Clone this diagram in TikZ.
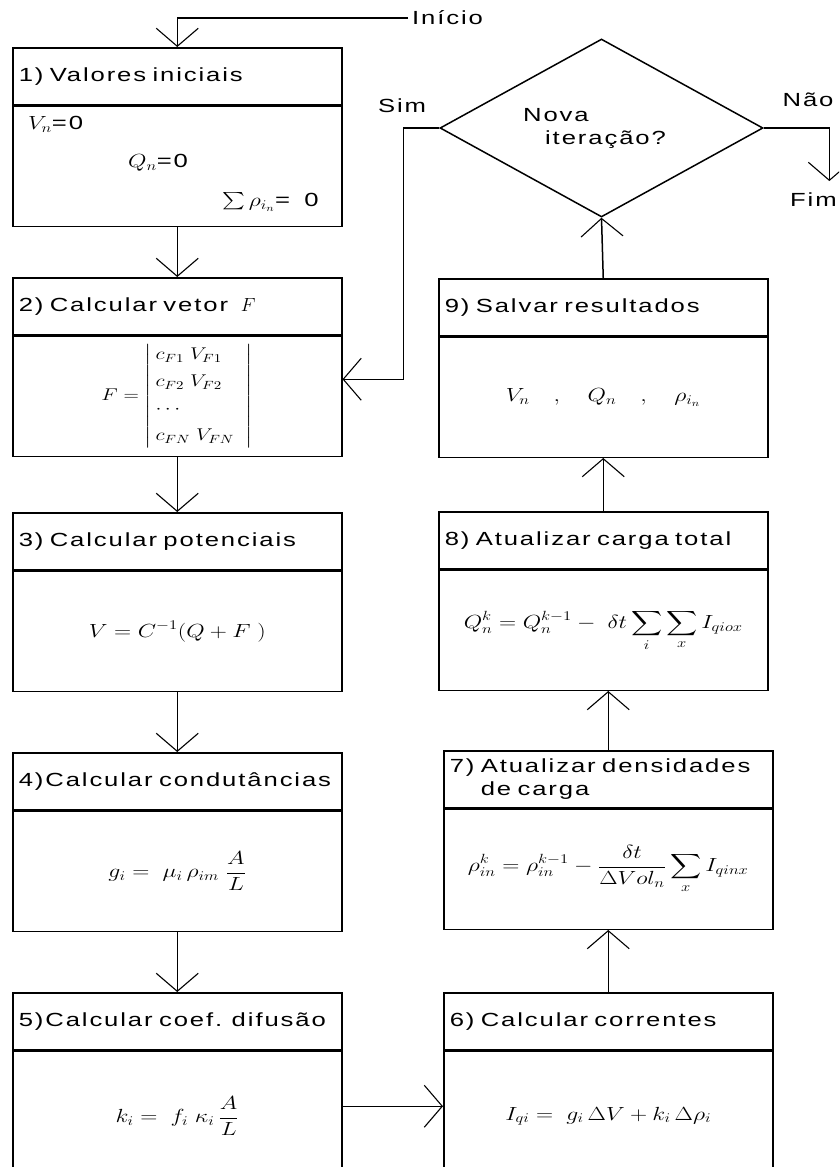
\documentclass[tikz,border=0pt]{standalone}
\usepackage{fix-cm}
\usepackage{amsmath}
\usepackage{graphicx}
\usepackage{fontspec}
\setmainfont[FakeStretch=1.35,LetterSpace=10,WordSpace=1.6]{Liberation Sans}
\usetikzlibrary{positioning,shapes.geometric,arrows.meta}
\newcommand{\formula}[1]{\scalebox{1.25}[1]{$\displaystyle #1$}}

\begin{document}
\begin{tikzpicture}[x=1pt, y=-1pt, line width=1.5pt,
  font=\fontsize{19}{23}\selectfont,
  >={Straight Barb[length=18pt,width=42pt,line width=1.1pt]},
  ttl/.style={draw, anchor=north west, minimum width=329pt, minimum height=57pt,
    text width=317pt, inner xsep=6pt, align=left},
  body/.style={draw, below=0pt of #1, minimum width=329pt, minimum height=120pt,
    text width=317pt, inner xsep=6pt, align=center, font=\fontsize{19}{23}\selectfont},
  flow/.style={->}]
\useasboundingbox (0,0) rectangle (839,1167);
\clip (0,0) rectangle (839,1167);

% left column
\node[ttl] (p1t) at (12,47) {1) Valores iniciais};
\node[body=p1t] (p1) {};
\node[anchor=west] (v0) at (24,124) {\formula{V_n}=0};
\node[anchor=west] (q0) at (124,163) {\formula{Q_n}=0};
\node[anchor=west] (s0) at (218,202) {\formula{\textstyle\sum\rho_{i_n}}= 0};

\node[ttl] (p2t) at (12,277) {2) Calcular vetor \ $F$};
\node[body=p2t, font=\fontsize{17}{20}\selectfont] (p2) {\formula{F=\left|\begin{array}{@{\,}l@{\;\;}}
  c_{F1}\;V_{F1}\\[7pt] c_{F2}\;V_{F2}\\[7pt] \cdots\\[7pt] c_{FN}\;V_{FN}\end{array}\right|}\hspace*{70pt}};

\node[ttl] (p3t) at (12,512) {3) Calcular potenciais};
\node[body=p3t] (p3) {\formula{V = C^{-1}(Q + F\;)}};

\node[ttl] (p4t) at (12,752) {4)Calcular condutâncias};
\node[body=p4t] (p4) {\formula{g_i = \;\mu_i\,\rho_{im}\;\frac{A}{L}}};

\node[ttl] (p5t) at (12,992) {5)Calcular coef. difusão};
\node[body=p5t, minimum height=130pt] (p5) {\formula{k_i = \;f_i\;\kappa_i\,\frac{A}{L}}\\[-20pt]};

% right column
\node[ttl] (p6t) at (443,992) {6) Calcular correntes};
\node[body=p6t, minimum height=130pt] (p6) {\formula{I_{qi} = \;g_i\,\Delta V + k_i\,\Delta\rho_i}\\[-20pt]};

\node[ttl] (p7t) at (443,750) {7) Atualizar densidades\\\phantom{7) }de carga};
\node[body=p7t] (p7) {\formula{\rho^k_{in} = \rho^{k-1}_{in} - \frac{\delta t}{\Delta Vol_n}\sum_x I_{qinx}}};

\node[ttl] (p8t) at (438,511) {8) Atualizar carga total};
\node[body=p8t] (p8) {\formula{Q^k_n = Q^{k-1}_n - \;\delta t\sum_i\sum_x I_{qiox}}};

\node[ttl] (p9t) at (438,278) {9) Salvar resultados};
\node[body=p9t] (p9) {\formula{V_n\quad,\quad Q_n\quad,\quad \rho_{i_n}}};

\node[draw, diamond, minimum width=323pt, minimum height=178pt, inner sep=0pt,
  align=left] (dec) at (601.5,128) {\hspace*{-14pt}Nova\\\hspace*{8pt}iteração?};

\node[anchor=west] (inicio) at (408,18) {Início};
\node (sim) at (402,106) {Sim};
\node (nao) at (808,100) {Não};
\node[anchor=west] (fim) at (786,200) {Fim};

% connectors
\draw[flow] (inicio.west) -| (p1t.north);
\draw[flow] (p1.south) -- (p2t.north);
\draw[flow] (p2.south) -- (p3t.north);
\draw[flow] (p3.south) -- (p4t.north);
\draw[flow] (p4.south) -- (p5t.north);
\draw[flow] ([yshift=10pt]p5.east) -- ([yshift=10pt]p6.west);
\draw[flow] (p6t.north) -- (p7.south);
\draw[flow] (p7t.north) -- (p7t.north |- p8.south);
\draw[flow] (p8t.north) -- (p9.south);
\draw[flow] (p9t.north) -- (dec.south);
\draw[flow] (dec.west) -- ++(-36,0) |- ([yshift=17pt]p2.east);
\draw[flow] (dec.east) -| ([shift={(16pt,8pt)}]fim.north);
\end{tikzpicture}
\end{document}
